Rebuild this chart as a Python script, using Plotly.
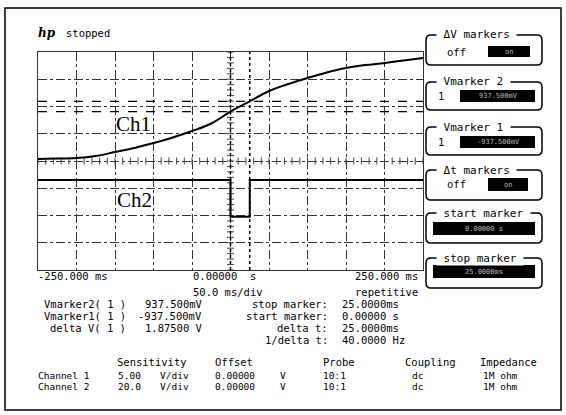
import numpy as np
import plotly.graph_objects as go

# ---------------- data ----------------
t_ch1 = [-250, -225, -200, -175, -150, -125, -100, -75, -50, -25, 0,
         25, 50, 75, 100, 125, 150, 175, 200, 225, 250]          # ms
v_ch1 = [-9.63, -9.54, -9.45, -9.08, -8.35, -7.61, -6.70, -5.69, -4.50, -3.12, -0.94,
         0.94, 2.84, 4.13, 5.23, 6.24, 7.06, 7.61, 7.98, 8.44, 8.90]  # V (5 V/div)
t_ch2 = [-250, 0, 0, 25, 25, 250]                                  # ms
v_ch2 = [-14, -14, -41, -41, -14, -14]                             # V (20 V/div)
v_markers = [0.9375, -0.9375]                                      # Vmarker2, Vmarker1 (Ch1)
t_markers = [0, 25]                                                # start, stop marker (ms)

# ---------------- geometry helpers ----------------
FW, FH = 566, 415
L, R, T, B = 38, 423, 52, 270
W, H = R - L, B - T
MONO = "DejaVu Sans Mono"
INK = "#000000"


def PX(x):
    return (x - L) / W


def PY(y):
    return (B - y) / H


annotations = []
shapes = []


def txt(s, x, y, anchor="left", size=10.5, color=INK, bg=None, family=MONO):
    a = dict(text=s, x=PX(x), y=PY(y), xref="paper", yref="paper",
             xanchor=anchor, yanchor="middle", showarrow=False, borderpad=0,
             font=dict(family=family, size=size, color=color))
    if bg:
        a["bgcolor"] = bg
    annotations.append(a)


def rrect(x0, y0, x1, y1, r=5, width=1.5):
    rx, ry = r / W, r / H
    a0, a1 = PX(x0), PX(x1)
    b0, b1 = PY(y0), PY(y1)
    p = (f"M {a0+rx},{b0} L {a1-rx},{b0} Q {a1},{b0} {a1},{b0-ry} "
         f"L {a1},{b1+ry} Q {a1},{b1} {a1-rx},{b1} L {a0+rx},{b1} "
         f"Q {a0},{b1} {a0},{b1+ry} L {a0},{b0-ry} Q {a0},{b0} {a0+rx},{b0} Z")
    shapes.append(dict(type="path", path=p, xref="paper", yref="paper",
                       line=dict(color=INK, width=width)))


def box(x0, y0, x1, y1, fill="black"):
    shapes.append(dict(type="rect", xref="paper", yref="paper",
                       x0=PX(x0), x1=PX(x1), y0=PY(y1), y1=PY(y0),
                       fillcolor=fill, line=dict(width=0)))


fig = go.Figure()

# graticule ticks on centre axes
ty = np.arange(-30, 10.01, 1.0)
fig.add_trace(go.Scatter(x=[0] * len(ty), y=ty, mode="markers", yaxis="y",
                         marker=dict(symbol="line-ew", size=5,
                                     line=dict(width=1, color="#444")),
                         hoverinfo="skip"))
tx = np.arange(-250, 250.01, 10)
fig.add_trace(go.Scatter(x=tx, y=[-10] * len(tx), mode="markers", yaxis="y",
                         marker=dict(symbol="line-ns", size=5,
                                     line=dict(width=1, color="#444")),
                         hoverinfo="skip"))

# traces
fig.add_trace(go.Scatter(x=t_ch1, y=v_ch1, mode="lines", yaxis="y",
                         line=dict(color="black", width=2, shape="spline"),
                         name="Ch1"))
fig.add_trace(go.Scatter(x=t_ch2, y=v_ch2, mode="lines", yaxis="y2",
                         line=dict(color="black", width=2), name="Ch2"))

# markers
for v in v_markers:
    shapes.append(dict(type="line", xref="paper", yref="y", x0=0, x1=1, y0=v, y1=v,
                       line=dict(color="black", width=1.3, dash="dash")))
for t in t_markers:
    shapes.append(dict(type="line", xref="x", yref="paper", x0=t, x1=t, y0=0, y1=1,
                       line=dict(color="black", width=1.5, dash="dot")))

# outer frame
shapes.append(dict(type="rect", xref="paper", yref="paper",
                   x0=PX(5), x1=PX(561), y0=PY(410), y1=PY(8),
                   line=dict(color=INK, width=1.5)))

# header
txt("<b><i>hp</i></b>", 37, 33, size=12, family="DejaVu Serif")
txt("stopped", 65, 33)

# channel labels (serif)
txt("Ch1", 133, 124, anchor="center", size=21, family="Liberation Serif")
txt("Ch2", 134, 200, anchor="center", size=21, family="Liberation Serif")

# time axis labels
txt("-250.000 ms", 37, 276)
txt("0.00000  s", 192, 276)
txt("50.0 ms/div", 192, 292)
txt("250.000 ms", 419, 276, anchor="right")
txt("repetitive", 419, 292, anchor="right")

# measurement readouts
txt("Vmarker2( 1 )", 43, 304)
txt("937.500mV", 144, 304)
txt("Vmarker1( 1 )", 43, 316)
txt("-937.500mV", 137, 316)
txt("delta V( 1 )", 49, 328)
txt("1.87500 V", 144, 328)
txt("stop marker:", 329, 304, anchor="right")
txt("start marker:", 329, 316, anchor="right")
txt("delta t:", 329, 328, anchor="right")
txt("1/delta t:", 329, 339.5, anchor="right")
txt("25.0000ms", 341, 304)
txt("0.00000 s", 341, 316)
txt("25.0000ms", 341, 328)
txt("40.0000 Hz", 341, 339.5)

# channel table
txt("Sensitivity", 116, 362)
txt("Offset", 214, 362)
txt("Probe", 322, 362)
txt("Coupling", 404, 362)
txt("Impedance", 479, 362)
for yy, name, sens in [(375, "Channel 1", "5.00"), (386.5, "Channel 2", "20.0")]:
    txt(name, 37, yy, size=9.5)
    txt(sens, 117, yy, size=9.5)
    txt("V/div", 159, yy, size=9.5)
    txt("0.00000", 214, yy, size=9.5)
    txt("V", 279, yy, size=9.5)
    txt("10:1", 322, yy, size=9.5)
    txt("dc", 411, yy, size=9.5)
    txt("1M ohm", 482, yy, size=9.5)

# softkey panel
panel = [
    (35, 65, "ΔV markers"),
    (82, 110, "Vmarker 2"),
    (127, 155, "Vmarker 1"),
    (170, 200, "Δt markers"),
    (213, 243, "start marker"),
    (258, 288, "stop marker"),
]
for y0, y1, title in panel:
    rrect(426, y0, 542, y1)
    txt(" " + title + " ", 436, y0, size=11, bg="white")

txt("off", 446, 52)
box(488, 46, 530, 57)
txt("on", 509, 51.5, anchor="center", size=7, color="#bbbbbb")

txt("1", 437, 96)
box(460, 90, 535, 102)
txt("937.500mV", 498, 96, anchor="center", size=7, color="#bbbbbb")

txt("1", 437, 142)
box(460, 136, 535, 148)
txt("-937.500mV", 498, 142, anchor="center", size=7, color="#bbbbbb")

txt("off", 446, 184)
box(488, 178, 528, 191)
txt("on", 508, 184.5, anchor="center", size=7, color="#bbbbbb")

box(433, 222, 535, 235)
txt("0.00000 s", 484, 228.5, anchor="center", size=7, color="#bbbbbb")

box(433, 265, 535, 278)
txt("25.0000ms", 484, 271.5, anchor="center", size=7, color="#bbbbbb")

fig.update_layout(
    width=FW, height=FH,
    margin=dict(l=L, r=FW - R, t=T, b=FH - B, pad=0),
    paper_bgcolor="white", plot_bgcolor="white",
    showlegend=False,
    xaxis=dict(range=[-250, 250], dtick=50, tick0=0, showgrid=True,
               gridcolor="#333", gridwidth=1, griddash="dashdot",
               zeroline=False, showticklabels=False, ticks="",
               showline=True, mirror=True, linecolor="#333", linewidth=1),
    yaxis=dict(range=[-30, 10], dtick=5, tick0=0, showgrid=True,
               gridcolor="#333", gridwidth=1, griddash="dashdot",
               zeroline=False, showticklabels=False, ticks="",
               showline=True, mirror=True, linecolor="#333", linewidth=1),
    yaxis2=dict(range=[-80, 80], overlaying="y", showgrid=False,
                zeroline=False, showticklabels=False, ticks=""),
    annotations=annotations,
    shapes=shapes,
)

fig.write_html(
    "out.html",
    config={"displayModeBar": False, "staticPlot": True},
    post_script="document.body.style.margin='0px';document.body.style.overflow='hidden';",
)
